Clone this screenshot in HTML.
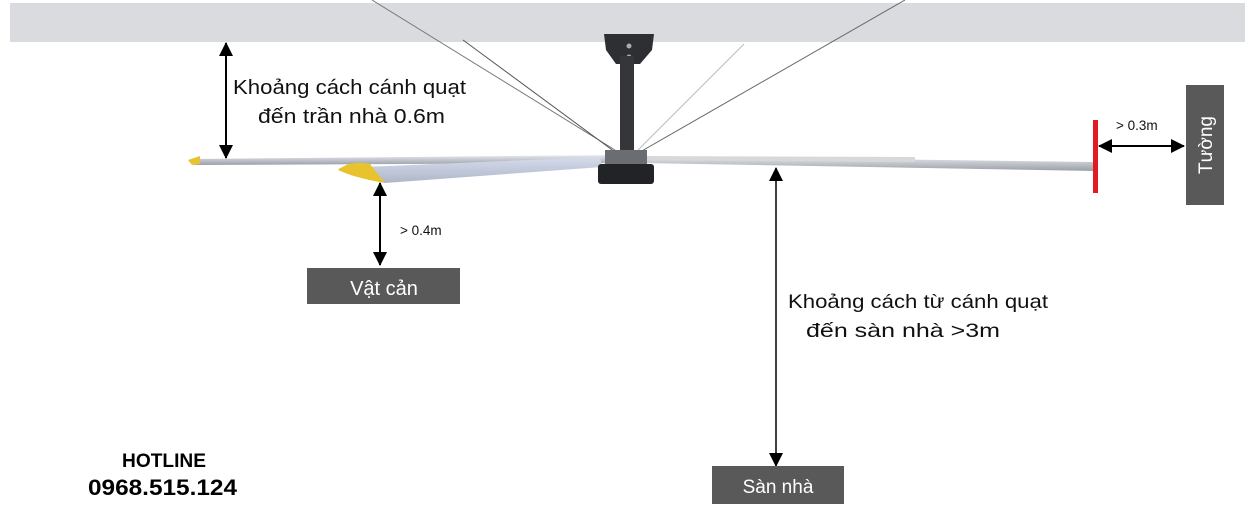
<!DOCTYPE html>
<html><head><meta charset="utf-8"><style>
html,body{margin:0;padding:0;background:#fff;}
svg{display:block;}
</style></head><body>
<svg width="1256" height="526" viewBox="0 0 1256 526" xmlns="http://www.w3.org/2000/svg" font-family="'Liberation Sans', 'DejaVu Sans', sans-serif">
<defs>
<marker id="ah" markerWidth="14" markerHeight="14" refX="13" refY="7" orient="auto-start-reverse" markerUnits="userSpaceOnUse" viewBox="0 0 14 14">
<path d="M0,0 L14,7 L0,14 z" fill="#000"/></marker>
<marker id="ah2" markerWidth="12" markerHeight="12" refX="11" refY="6" orient="auto-start-reverse" markerUnits="userSpaceOnUse" viewBox="0 0 12 12">
<path d="M0,0 L12,6 L0,12 z" fill="#000"/></marker>
<linearGradient id="bl" x1="0" y1="0" x2="0" y2="1"><stop offset="0" stop-color="#e8eaee"/><stop offset="1" stop-color="#9aa0a8"/></linearGradient>
<linearGradient id="bl2" x1="0" y1="0" x2="0" y2="1"><stop offset="0" stop-color="#d6dcec"/><stop offset="1" stop-color="#aeb6c8"/></linearGradient>
</defs>
<rect x="10" y="3" width="1235" height="39" fill="#d9dbdf"/>
<g stroke-width="1">
<line x1="372" y1="0" x2="615" y2="150" stroke="#777"/>
<line x1="463" y1="40" x2="615" y2="152" stroke="#555"/>
<line x1="905" y1="0" x2="640" y2="152" stroke="#666"/>
<line x1="744" y1="44" x2="638" y2="150" stroke="#bbb"/>
</g>
<path d="M604,34 L654,34 L652,50 L640,64 L616,64 L606,50 Z" fill="#2e2f33"/>
<circle cx="629" cy="46" r="2.5" fill="#aaa"/><circle cx="629" cy="57" r="2.5" fill="#aaa"/>
<rect x="620" y="56" width="14" height="100" fill="#35363a"/>
<polygon points="190,159 620,155 620,163 195,165" fill="url(#bl)"/>
<polygon points="188,160 200,156 200,164 192,165" fill="#e8c230"/>
<polygon points="338,168 600,157 602,167 385,183" fill="url(#bl2)"/>
<path d="M338,170 Q350,160 370,164 L385,183 Q355,178 338,170Z" fill="#e8c32e"/>
<polygon points="640,156 1095,162 1095,171 640,163" fill="url(#bl)"/>
<polygon points="640,156 915,157 915,162 640,160" fill="#d8d8d8"/>
<rect x="605" y="150" width="42" height="14" fill="#6a6d72"/>
<rect x="598" y="164" width="56" height="20" rx="3" fill="#222326"/>
<rect x="1093" y="120" width="5" height="73" fill="#e01b24"/>
<rect x="1186" y="85" width="38" height="120" fill="#595959"/>
<text x="0" y="0" transform="translate(1212,145) rotate(-90)" text-anchor="middle" font-size="19" fill="#fff">Tường</text>
<line x1="226" y1="43" x2="226" y2="158" stroke="#000" stroke-width="2" marker-start="url(#ah)" marker-end="url(#ah)"/>
<line x1="380" y1="183" x2="380" y2="265" stroke="#000" stroke-width="2" marker-start="url(#ah)" marker-end="url(#ah)"/>
<line x1="776" y1="168" x2="776" y2="466" stroke="#000" stroke-width="1.5" marker-start="url(#ah)" marker-end="url(#ah)"/>
<line x1="1099" y1="146" x2="1184" y2="146" stroke="#000" stroke-width="2" marker-start="url(#ah)" marker-end="url(#ah)"/>
<text x="233" y="94" font-size="20" fill="#111" textLength="233" lengthAdjust="spacingAndGlyphs">Khoảng cách cánh quạt</text>
<text x="258" y="123" font-size="20" fill="#111" textLength="187" lengthAdjust="spacingAndGlyphs">đến trần nhà 0.6m</text>
<text x="400" y="235" font-size="13.5" fill="#111">&gt; 0.4m</text>
<text x="1116" y="130" font-size="13.5" fill="#111">&gt; 0.3m</text>
<text x="788" y="308" font-size="19.5" fill="#111" textLength="260" lengthAdjust="spacingAndGlyphs">Khoảng cách từ cánh quạt</text>
<text x="806" y="337" font-size="19.5" fill="#111" textLength="194" lengthAdjust="spacingAndGlyphs">đến sàn nhà &gt;3m</text>
<rect x="307" y="268" width="153" height="36" fill="#595959"/>
<text x="384" y="295" font-size="20" fill="#fff" text-anchor="middle">Vật cản</text>
<rect x="712" y="466" width="132" height="38" fill="#595959"/>
<text x="778" y="493" font-size="19" fill="#fff" text-anchor="middle">Sàn nhà</text>
<text x="122" y="467" font-size="19" font-weight="bold" fill="#000" textLength="84" lengthAdjust="spacingAndGlyphs">HOTLINE</text>
<text x="88" y="495" font-size="22" font-weight="bold" fill="#000" textLength="149" lengthAdjust="spacingAndGlyphs">0968.515.124</text>
</svg>
</body></html>
